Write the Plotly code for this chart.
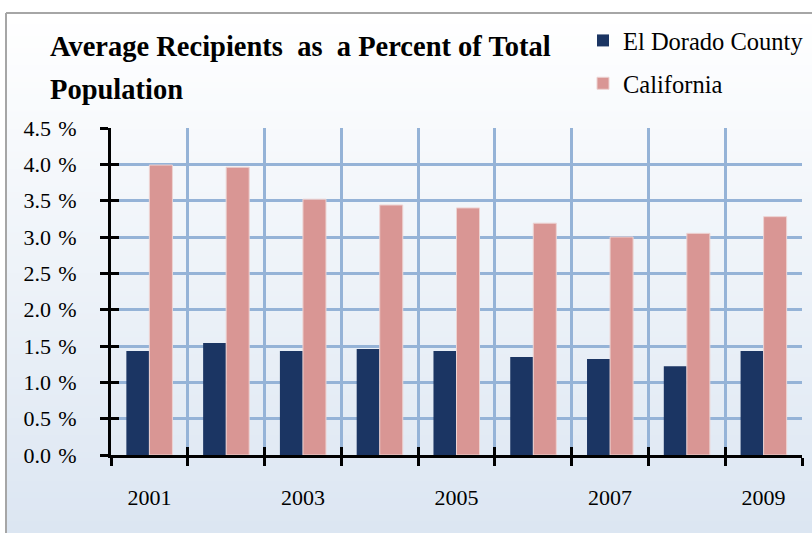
import plotly.graph_objects as go

# Data: average recipients as a share of total population (%)
years = ["2001", "2002", "2003", "2004", "2005", "2006", "2007", "2008", "2009"]
el_dorado = [1.43, 1.54, 1.43, 1.46, 1.43, 1.35, 1.32, 1.22, 1.43]
california = [3.99, 3.96, 3.52, 3.44, 3.40, 3.19, 3.00, 3.05, 3.28]
year_labels = ["2001", "", "2003", "", "2005", "", "2007", "", "2009"]

W, H = 812, 533
ML, MR, MT, MB = 111, 10, 128, 78
PW, PH = W - ML - MR, H - MT - MB


def px_x(px):
    return (px - ML) / PW


def px_y(py):
    return (H - MB - py) / PH


FONT = "Liberation Serif"
NAVY = "#1B3563"
PINK = "#D99694"
GRID = "#95B3D7"
XR = [-0.5, len(years) - 0.5]
YR = [0, 4.5]

fig = go.Figure()
fig.add_trace(go.Bar(x=years, y=el_dorado, name="El Dorado County",
                     marker=dict(color=NAVY, line=dict(width=0)),
                     legendgroup="a"))
fig.add_trace(go.Bar(x=years, y=california, name="California",
                     marker=dict(color=PINK, line=dict(color="#EDD3D2", width=1)),
                     legendgroup="b"))
# invisible trace carrying the overlay axes (inner half of the cross ticks)
fig.add_trace(go.Scatter(x=years, y=[None] * len(years), xaxis="x2", yaxis="y2",
                         showlegend=False, hoverinfo="skip", mode="lines"))

# soft vertical gradient behind the chart
shapes = []
N = 90
top, bot = 13, H
c0, c1 = (255, 255, 255), (220, 230, 242)
for i in range(N):
    t = i / (N - 1)
    col = tuple(round(c0[k] + (c1[k] - c0[k]) * t) for k in range(3))
    y0 = top + (bot - top) * i / N
    y1 = top + (bot - top) * (i + 1) / N + 1
    shapes.append(dict(type="rect", xref="paper", yref="paper", layer="below",
                       x0=px_x(6), x1=px_x(W + 2), y0=px_y(y1), y1=px_y(y0),
                       line=dict(width=0), fillcolor="rgb(%d,%d,%d)" % col))
# outer frame
shapes.append(dict(type="line", xref="paper", yref="paper", x0=px_x(6), x1=px_x(6),
                   y0=px_y(13), y1=px_y(H + 2), line=dict(color="#A6A6A6", width=2)))
shapes.append(dict(type="line", xref="paper", yref="paper", x0=px_x(6), x1=px_x(W + 2),
                   y0=px_y(13), y1=px_y(13), line=dict(color="#A6A6A6", width=2)))

annotations = [
    dict(text="<b>Average Recipients  as  a Percent of Total</b>", xref="paper", yref="paper",
         x=px_x(48), y=px_y(46), xanchor="left", yanchor="middle", showarrow=False,
         font=dict(family=FONT, size=28.5, color="black")),
    dict(text="<b>Population</b>", xref="paper", yref="paper",
         x=px_x(48), y=px_y(90), xanchor="left", yanchor="middle", showarrow=False,
         font=dict(family=FONT, size=28.5, color="black")),
]

axis_font = dict(family=FONT, size=22, color="black")
inner_ticks = dict(showticklabels=False, showgrid=False, showline=False, zeroline=False,
                   ticks="inside", ticklen=8, tickwidth=3, tickcolor="black")

fig.update_layout(
    width=W, height=H,
    margin=dict(l=ML, r=MR, t=MT, b=MB, pad=0, autoexpand=False),
    paper_bgcolor="white", plot_bgcolor="rgba(0,0,0,0)",
    barmode="group", bargap=0.4, bargroupgap=0,
    shapes=shapes, annotations=annotations,
    legend=dict(x=px_x(583), y=px_y(18), xanchor="left", yanchor="top",
                font=dict(family=FONT, size=24.5, color="black"),
                bgcolor="rgba(0,0,0,0)", tracegroupgap=8, itemwidth=30),
    xaxis=dict(type="category", tickmode="array", tickvals=years, ticktext=year_labels,
               tickson="boundaries", showgrid=True, gridcolor=GRID, gridwidth=3,
               showline=True, linecolor="black", linewidth=3,
               ticks="outside", ticklen=8, tickwidth=3, tickcolor="black",
               tickfont=axis_font, ticklabelstandoff=21, range=XR, autorange=False,
               fixedrange=True),
    yaxis=dict(range=YR, autorange=False, tickmode="linear", tick0=0, dtick=0.5,
               tickformat=".1f", ticksuffix="\u200a %",
               showgrid=True, gridcolor=GRID, gridwidth=3, zeroline=False,
               showline=True, linecolor="black", linewidth=3,
               ticks="outside", ticklen=8, tickwidth=3, tickcolor="black",
               tickfont=axis_font, ticklabelstandoff=19),
    xaxis2=dict(type="category", overlaying="x", anchor="y2", side="bottom",
                tickmode="array", tickvals=years, tickson="boundaries",
                range=XR, autorange=False, **inner_ticks),
    yaxis2=dict(overlaying="y", anchor="x2", side="left",
                range=YR, autorange=False, tickmode="linear", tick0=0, dtick=0.5,
                **inner_ticks),
)

fig.write_html("out.html")
